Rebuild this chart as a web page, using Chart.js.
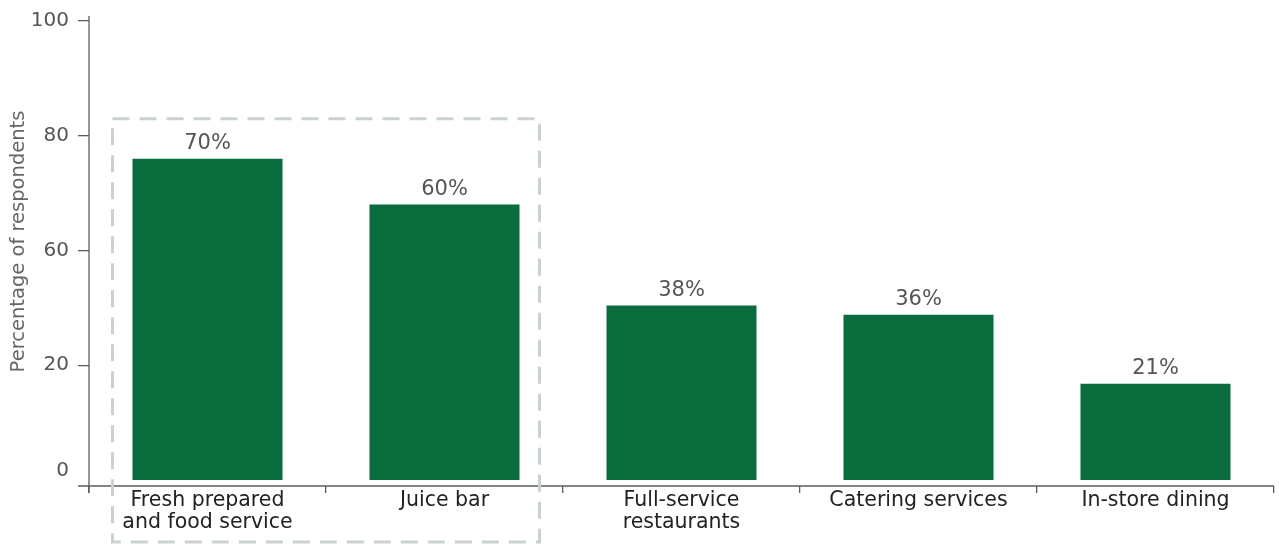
<!DOCTYPE html>
<html>
<head>
<meta charset="utf-8">
<script src="https://cdn.jsdelivr.net/npm/chart.js@4"></script>
<style>
  html, body { margin: 0; padding: 0; background: #fff; }
  #wrap { width: 1279px; height: 546px; position: relative; }
</style>
</head>
<body>
<div id="wrap"><canvas id="chart"></canvas></div>
<script>
// --- Data ---
const categories = [
    ['Fresh prepared', 'and food service'],
    'Juice bar',
    ['Full-service', 'restaurants'],
    'Catering services',
    'In-store dining'
];
const shares = [70, 60, 38, 36, 21];
const valueLabels = ['70%', '60%', '38%', '36%', '21%'];

// y ticks as printed on the original (positions vs. labels)
const yTickValues = [2, 25, 50, 75, 100];
const yTickLabels = ['0', '20', '60', '80', '100'];
const yTitle = 'Percentage of respondents';

// --- Style ---
const FONT = '"DejaVu Sans", sans-serif';
const GREEN = '#0a6b3d';
const AXIS = '#5a5d60';
const BOX = '#c9d2cf';

// --- Plugins ---
const axisLines = {
    id: 'axisLines',
    afterDraw(chart) {
        const { ctx, chartArea: a } = chart;
        ctx.save();
        ctx.strokeStyle = AXIS;
        ctx.lineWidth = 1.3;
        ctx.beginPath();
        ctx.moveTo(a.left, a.top - 5);
        ctx.lineTo(a.left, a.bottom + 7);
        ctx.moveTo(a.left - 11, a.bottom);
        ctx.lineTo(a.right, a.bottom);
        ctx.stroke();

        // y title, drawn by hand to sit where the original has it
        ctx.translate(19, (a.top + a.bottom) / 2 - 12);
        ctx.rotate(-Math.PI / 2);
        ctx.font = '19.5px ' + FONT;
        ctx.fillStyle = '#666';
        ctx.textAlign = 'center';
        ctx.textBaseline = 'middle';
        ctx.fillText(yTitle, 0, 0);
        ctx.restore();
    }
};

const barLabels = {
    id: 'barLabels',
    afterDatasetsDraw(chart) {
        const { ctx } = chart;
        const meta = chart.getDatasetMeta(0);
        ctx.save();
        ctx.font = '21px ' + FONT;
        ctx.fillStyle = '#555';
        ctx.textAlign = 'center';
        ctx.textBaseline = 'middle';
        meta.data.forEach((bar, i) => {
            ctx.fillText(valueLabels[i], bar.x, bar.y - 15);
        });
        ctx.restore();
    }
};

// dashed highlight round the first two categories
const highlightBox = {
    id: 'highlightBox',
    afterDraw(chart) {
        const { ctx } = chart;
        const meta = chart.getDatasetMeta(0);
        const b0 = meta.data[0], b1 = meta.data[1];
        const left = b0.x - b0.width / 2 - 20;
        const right = b1.x + b1.width / 2 + 20;
        const top = b0.y - 40;
        const bottom = chart.height - 4;
        ctx.save();
        ctx.strokeStyle = BOX;
        ctx.lineWidth = 3;
        ctx.setLineDash([17, 10]);
        ctx.strokeRect(left, top, right - left, bottom - top);
        ctx.restore();
    }
};

// --- Chart ---
const ctx = document.getElementById('chart').getContext('2d');
new Chart(ctx, {
    type: 'bar',
    data: {
        labels: categories,
        datasets: [{
            data: shares,
            backgroundColor: GREEN,
            borderWidth: 0,
            categoryPercentage: 1,
            barPercentage: 0.633
        }]
    },
    options: {
        responsive: true,
        maintainAspectRatio: false,
        animation: false,
        layout: { padding: { top: 19, right: 5, left: 0, bottom: 0 } },
        scales: {
            x: {
                grid: { offset: true, drawOnChartArea: false, tickLength: 7, color: AXIS, lineWidth: 1.3 },
                border: { display: false },
                ticks: {
                    color: '#222',
                    font: { family: FONT, size: 20.5, lineHeight: 1.07 },
                    padding: -3,
                    maxRotation: 0,
                    autoSkip: false
                },
                afterFit(scale) { scale.height = 60; }
            },
            y: {
                min: -1.3,
                max: 100,
                afterBuildTicks(scale) {
                    scale.ticks = yTickValues.map(v => ({ value: v }));
                },
                grid: {
                    drawOnChartArea: false,
                    tickLength: 11,
                    lineWidth: 1.3,
                    tickColor: c => c.index === 0 ? 'rgba(0,0,0,0)' : AXIS
                },
                border: { display: false },
                ticks: {
                    color: '#555',
                    font: { family: FONT, size: 20 },
                    padding: 9,
                    callback: (v, i) => yTickLabels[i]
                },
                afterFit(scale) { scale.width = 89; }
            }
        },
        plugins: {
            legend: { display: false },
            tooltip: { enabled: false }
        }
    },
    plugins: [axisLines, barLabels, highlightBox]
});
</script>
</body>
</html>
